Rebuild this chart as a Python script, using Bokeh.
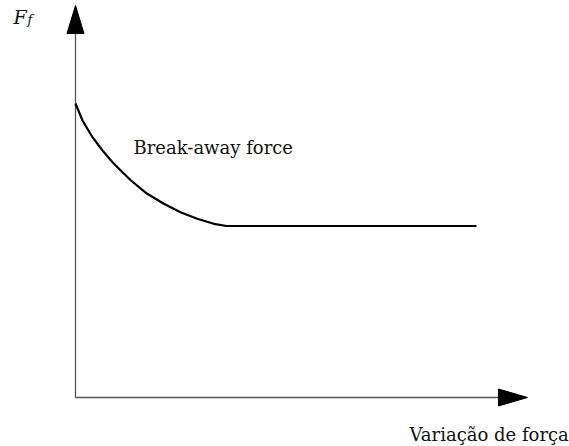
from bokeh.plotting import figure
from bokeh.models import Range1d
from bokeh.embed import file_html
from bokeh.resources import INLINE
from bokeh.core.properties import value

# Friction force curve (arbitrary units, origin at axes crossing)
force_x = [0.0, 0.07, 0.17, 0.27, 0.37, 0.47, 0.555, 0.717, 0.883, 1.05, 1.217, 1.383, 1.51, 4.01]
friction_y = [2.94, 2.77, 2.603, 2.47, 2.353, 2.253, 2.17, 2.037, 1.937, 1.853, 1.787, 1.737, 1.715, 1.715]

x_axis_end = 4.23
y_axis_end = 3.64
x_arrow_tip = 4.52
y_arrow_tip = 3.92

curve_label = "Break-away force"
x_label = "Variação de força"
y_label = "F"
y_label_sub = "f"

W, H = 569, 446
X0, Y0, S = 75.0, 397.0, 100.0  # picture pixel of origin, pixels per unit
p = figure(width=W, height=H, output_backend="svg", toolbar_location=None,
           x_range=Range1d(-X0 / S, (W - X0) / S), y_range=Range1d((Y0 - H) / S, Y0 / S),
           min_border=0, outline_line_color=None)
p.axis.visible = False
p.grid.visible = False

axis_color = "#555555"
# axes
p.line([0, 0], [0, y_axis_end], line_color=axis_color, line_width=1.3)
p.line([0, x_axis_end], [0, 0], line_color=axis_color, line_width=1.3)
# arrowheads
p.patch([-0.085, 0.085, 0.0], [y_axis_end, y_axis_end, y_arrow_tip],
        fill_color="black", line_color="black")
p.patch([x_axis_end, x_axis_end, x_arrow_tip], [0.085, -0.085, 0.0],
        fill_color="black", line_color="black")

# curve
p.line(force_x, friction_y, line_color="black", line_width=2.2, line_join="round")

serif = value("DejaVu Serif")
p.text(x=[0.58], y=[2.50], text=[curve_label], text_font=serif,
       text_font_size="18px", text_baseline="alphabetic", text_color="#111111")
p.text(x=[3.34], y=[-0.37], text=[x_label], text_font=serif,
       text_font_size="18px", text_baseline="alphabetic", text_color="#111111")
p.text(x=[-0.62], y=[3.81], text=[y_label], text_font=serif, text_font_style="italic",
       text_font_size="19px", text_baseline="alphabetic", text_color="#111111")
p.text(x=[-0.48], y=[3.78], text=[y_label_sub], text_font=serif, text_font_style="italic",
       text_font_size="13px", text_baseline="alphabetic", text_color="#111111")

open("out.html", "w").write(file_html(p, INLINE))
